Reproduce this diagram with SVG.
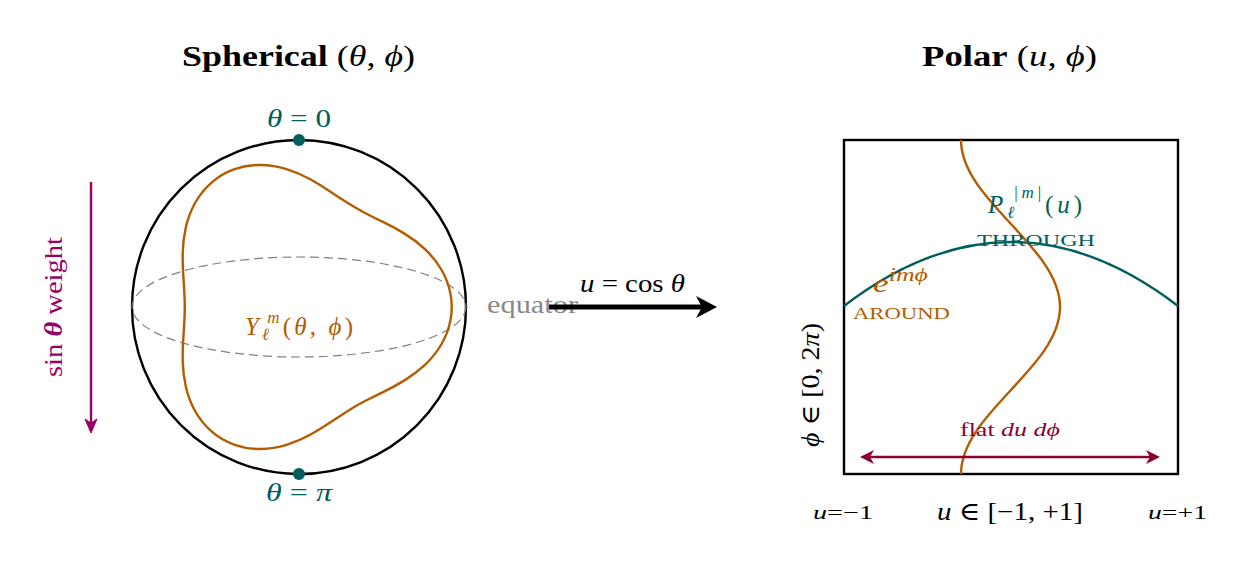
<svg xmlns="http://www.w3.org/2000/svg" width="1256" height="574" viewBox="0 0 1256 574">
<defs>
<style>
text{font-family:"Liberation Serif","DejaVu Serif",serif;}
.title{font-size:29px;fill:#000;}
.teal{fill:#005f5c;}
.orange{fill:#b35c00;}
.it{font-style:italic;}
</style>
</defs>
<rect width="1256" height="574" fill="#fff"/>

<g id="title-spherical"><text class="title" x="182" y="66" textLength="233" lengthAdjust="spacingAndGlyphs"><tspan font-weight="bold">Spherical</tspan> (<tspan class="it">θ</tspan>, <tspan class="it">ϕ</tspan>)</text></g>
<g id="title-polar"><text class="title" x="922" y="66" textLength="175" lengthAdjust="spacingAndGlyphs"><tspan font-weight="bold">Polar</tspan> (<tspan class="it">u</tspan>, <tspan class="it">ϕ</tspan>)</text></g>

<g id="sphere">
<circle cx="299" cy="307" r="167" fill="none" stroke="#000" stroke-width="2.4"/>
<ellipse cx="299" cy="307" rx="167" ry="50" fill="none" stroke="#808080" stroke-width="1.2" stroke-dasharray="9 5"/>
<path d="M450.5,320.15 Q453,307 450.5,293.85 Q448,280.7 441.15,269.25 Q434.3,257.8 424.65,248.9 Q415,240 404.5,233.65 Q394,227.3 384,222.45 Q374,217.6 365,212.95 Q356,208.3 347.45,202.85 Q338.9,197.4 329.7,191.15 Q320.5,184.9 309.75,178.95 Q299,173 286.5,169.1 Q274,165.2 260.65,165 Q247.3,164.8 234.65,169.2 Q222,173.6 211.85,182.35 Q201.7,191.1 195.2,202.75 Q188.7,214.4 185.85,227.2 Q183,240 182.75,252.3 Q182.5,264.6 183.3,275.65 Q184.1,286.7 184.55,296.85 Q185,307 184.55,317.15 Q184.1,327.3 183.3,338.35 Q182.5,349.4 182.75,361.7 Q183,374 185.85,386.8 Q188.7,399.6 195.2,411.25 Q201.7,422.9 211.85,431.65 Q222,440.4 234.65,444.8 Q247.3,449.2 260.65,449 Q274,448.8 286.5,444.9 Q299,441 309.75,435.05 Q320.5,429.1 329.7,422.85 Q338.9,416.6 347.45,411.15 Q356,405.7 365,401.05 Q374,396.4 384,391.55 Q394,386.7 404.5,380.35 Q415,374 424.65,365.1 Q434.3,356.2 441.15,344.75 Q448,333.3 450.5,320.15 Z" fill="none" stroke="#b35c00" stroke-width="2.4"/>
<text class="orange" x="245" y="335" font-size="25" textLength="108" lengthAdjust="spacing"><tspan class="it">Y</tspan><tspan class="it" font-size="17" dy="5">ℓ</tspan><tspan class="it" font-size="17" dx="-5" dy="-17">m</tspan><tspan dy="12">(</tspan><tspan class="it">θ</tspan>, <tspan class="it">ϕ</tspan>)</text>
<text x="487" y="313" font-size="25" fill="#888" textLength="91" lengthAdjust="spacingAndGlyphs">equator</text>
</g>

<g id="pole-north">
<circle cx="299" cy="140" r="6" fill="#005f5c"/>
<text class="teal" x="267" y="127" font-size="25" textLength="64" lengthAdjust="spacingAndGlyphs"><tspan class="it">θ</tspan> = 0</text>
</g>
<g id="pole-south">
<circle cx="299" cy="474" r="6" fill="#005f5c"/>
<text class="teal" x="266" y="501" font-size="25" textLength="66" lengthAdjust="spacingAndGlyphs"><tspan class="it">θ</tspan> = <tspan class="it">π</tspan></text>
</g>

<g id="sin-weight">
<text x="-8" y="307" font-size="25" fill="#990066" textLength="140" lengthAdjust="spacingAndGlyphs" transform="rotate(-90 62 307)">sin <tspan font-weight="bold" class="it">θ</tspan> weight</text>
</g>

<g id="polar-box">
<rect x="844" y="140" width="334" height="334" fill="none" stroke="#000" stroke-width="2.4"/>
<path d="M844,306 Q1011,178 1178,306" fill="none" stroke="#005f5c" stroke-width="2.4"/>
<path d="M961,140 C961,200.8 1060,246.2 1060,307 C1060,367.8 961,413.2 961,474" fill="none" stroke="#b35c00" stroke-width="2.4"/>
<text class="teal" x="988" y="213" font-size="25" textLength="94" lengthAdjust="spacing"><tspan class="it">P</tspan><tspan class="it" font-size="17" dy="5">ℓ</tspan><tspan font-size="17" dx="-4" dy="-20">|<tspan class="it">m</tspan>|</tspan><tspan dy="15">(</tspan><tspan class="it">u</tspan>)</text>
<text class="teal" x="977" y="246" font-size="17" textLength="118" lengthAdjust="spacingAndGlyphs">THROUGH</text>
<text class="orange" x="873" y="292" font-size="26" textLength="55" lengthAdjust="spacingAndGlyphs"><tspan class="it">e</tspan><tspan class="it" font-size="19" dy="-11">imϕ</tspan></text>
<text class="orange" x="853" y="319" font-size="17" textLength="97" lengthAdjust="spacingAndGlyphs">AROUND</text>
<text x="960" y="436" font-size="19" fill="#8b0033" textLength="100" lengthAdjust="spacingAndGlyphs">flat <tspan class="it">du dϕ</tspan></text>
<text x="757" y="385" font-size="25" textLength="124" lengthAdjust="spacingAndGlyphs" transform="rotate(-90 819 385)"><tspan class="it">ϕ</tspan> ∈ [0, 2<tspan class="it">π</tspan>)</text>
<text x="937" y="520" font-size="25" textLength="146" lengthAdjust="spacingAndGlyphs"><tspan class="it">u</tspan> ∈ [−1, +1]</text>
<text x="813" y="519" font-size="19" textLength="60" lengthAdjust="spacingAndGlyphs"><tspan class="it">u</tspan>=−1</text>
<text x="1148" y="519" font-size="19" textLength="59" lengthAdjust="spacingAndGlyphs"><tspan class="it">u</tspan>=+1</text>
</g>

<g id="connectors">
<line x1="91" y1="182" x2="91" y2="424" stroke="#990066" stroke-width="2.4"/>
<polygon points="91,433 85,419 91,423 97,419" fill="#990066" stroke="#990066" stroke-width="1" stroke-linejoin="round"/>
<line x1="549" y1="307" x2="704" y2="307" stroke="#000" stroke-width="5"/>
<polygon points="717,307 696,296 702,307 696,318" fill="#000"/>
<text x="580" y="292" font-size="25" textLength="105" lengthAdjust="spacingAndGlyphs"><tspan class="it">u</tspan> = cos <tspan class="it">θ</tspan></text>
<line x1="866" y1="457" x2="1154" y2="457" stroke="#8b0033" stroke-width="2.4"/>
<polygon points="860,457 874,450 870,457 874,464" fill="#8b0033"/>
<polygon points="1160,457 1146,450 1150,457 1146,464" fill="#8b0033"/>
</g>
</svg>
